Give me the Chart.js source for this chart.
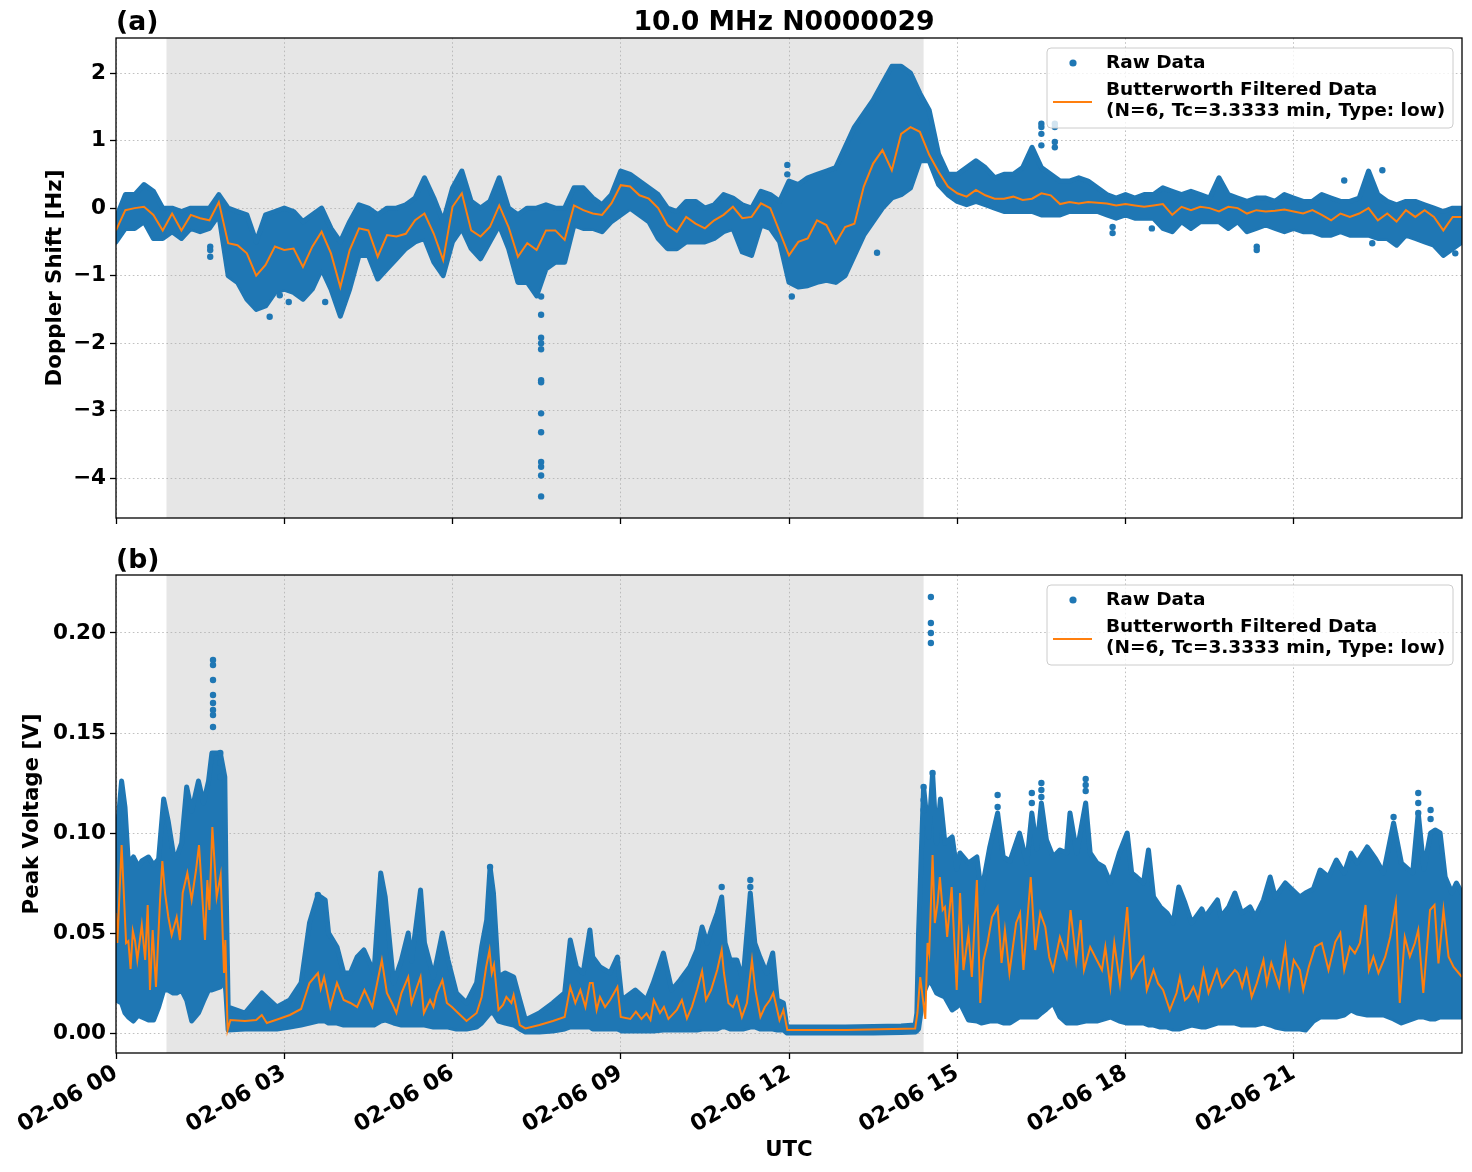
<!DOCTYPE html>
<html><head><meta charset="utf-8">
<script src="https://cdn.jsdelivr.net/npm/chart.js@4.4.1/dist/chart.umd.min.js"></script>
<style>
html,body{margin:0;padding:0;background:#fff;}
#wrap{position:relative;width:1472px;height:1172px;}
#ca{position:absolute;left:0;top:0;}
#cb{position:absolute;left:0;top:545px;}
</style></head><body>
<div id="wrap">
<canvas id="ca" width="1472" height="545"></canvas>
<canvas id="cb" width="1472" height="627"></canvas>
</div>
<script>
// ---------------- DATA ----------------
const mainTitle = '10.0 MHz N0000029';
const labelRaw = 'Raw Data';
const labelFilt = ['Butterworth Filtered Data', '(N=6, Tc=3.3333 min, Type: low)'];
const xTicks = [0, 3, 6, 9, 12, 15, 18, 21];
const xTickLabels = ['02-06 00','02-06 03','02-06 06','02-06 09','02-06 12','02-06 15','02-06 18','02-06 21'];
const yTicksA = [-4, -3, -2, -1, 0, 1, 2];
const yTickLabelsA = ['\u22124','\u22123','\u22122','\u22121','0','1','2'];
const yTicksB = [0, 0.05, 0.10, 0.15, 0.20];
const yTickLabelsB = ['0.00','0.05','0.10','0.15','0.20'];
const nightStart = 0.9, nightEnd = 14.4;   // shaded interval (hours UTC)

// Panel (a): sampled every 10 minutes, 00:00 .. 24:00 (145 samples)
const hoursA = Array.from({length: 145}, (_, i) => i / 6);
const filtA = [
 -0.33,-0.03,0.00,0.02,-0.10,-0.33,-0.08,-0.33,-0.10,-0.15,-0.18,0.09,
 -0.52,-0.55,-0.67,-1.00,-0.84,-0.57,-0.62,-0.60,-0.87,-0.57,-0.35,-0.67,
 -1.17,-0.62,-0.30,-0.33,-0.72,-0.40,-0.42,-0.38,-0.18,-0.08,-0.38,-0.77,
 0.02,0.22,-0.33,-0.42,-0.28,0.04,-0.28,-0.72,-0.52,-0.62,-0.33,-0.33,
 -0.47,0.04,-0.03,-0.08,-0.10,0.07,0.34,0.32,0.19,0.14,0.00,-0.25,
 -0.35,-0.13,-0.23,-0.30,-0.18,-0.10,0.02,-0.15,-0.13,0.07,0.00,-0.35,
 -0.70,-0.50,-0.45,-0.18,-0.25,-0.52,-0.28,-0.23,0.32,0.66,0.86,0.56,
 1.10,1.20,1.13,0.79,0.54,0.32,0.22,0.17,0.27,0.19,0.14,0.14,
 0.17,0.12,0.14,0.22,0.19,0.06,0.09,0.07,0.09,0.08,0.07,0.04,
 0.06,0.04,0.02,0.04,0.06,-0.10,0.02,-0.03,0.02,0.00,-0.05,0.02,
 0.00,-0.08,-0.03,-0.05,-0.04,-0.02,-0.05,-0.08,-0.03,-0.10,-0.18,-0.08,
 -0.13,-0.08,0.00,-0.18,-0.08,-0.20,-0.03,-0.13,-0.03,-0.13,-0.33,-0.13,
 -0.13];
const rawUpperA = [
 -0.15,0.20,0.20,0.35,0.25,0.00,0.00,-0.05,0.00,0.00,0.00,0.20,
 0.00,-0.05,-0.10,-0.50,-0.10,-0.05,0.00,-0.05,-0.20,-0.10,0.00,-0.30,
 -0.50,-0.20,0.05,0.00,-0.10,0.00,0.00,0.05,0.15,0.45,0.15,-0.20,
 0.30,0.55,0.10,0.00,0.10,0.45,0.00,-0.10,0.00,0.00,0.05,0.00,
 0.00,0.30,0.30,0.15,0.05,0.20,0.55,0.50,0.40,0.30,0.20,0.00,
 -0.05,0.10,0.10,0.00,0.05,0.20,0.15,0.05,0.00,0.25,0.20,0.10,
 0.40,0.35,0.45,0.50,0.55,0.60,0.90,1.20,1.40,1.60,1.85,2.10,
 2.10,2.00,1.70,1.45,0.80,0.50,0.50,0.60,0.70,0.60,0.45,0.50,
 0.50,0.60,0.90,0.60,0.50,0.40,0.40,0.45,0.40,0.30,0.20,0.15,
 0.20,0.15,0.20,0.20,0.30,0.25,0.20,0.25,0.20,0.15,0.45,0.20,
 0.15,0.10,0.15,0.15,0.10,0.20,0.15,0.10,0.10,0.20,0.15,0.10,
 0.10,0.15,0.55,0.20,0.10,0.05,0.10,0.10,0.05,0.00,-0.05,0.00,
 0.00];
const rawLowerA = [
 -0.50,-0.30,-0.30,-0.20,-0.45,-0.45,-0.35,-0.45,-0.30,-0.35,-0.30,-0.10,
 -1.00,-1.10,-1.35,-1.50,-1.45,-1.25,-1.20,-1.25,-1.35,-1.20,-0.90,-1.20,
 -1.60,-1.20,-0.70,-0.70,-1.05,-0.90,-0.75,-0.60,-0.50,-0.45,-0.80,-1.00,
 -0.50,-0.30,-0.60,-0.75,-0.50,-0.25,-0.60,-1.10,-1.10,-1.30,-0.90,-0.80,
 -0.80,-0.25,-0.30,-0.30,-0.35,-0.20,-0.10,0.00,-0.10,-0.20,-0.45,-0.60,
 -0.60,-0.50,-0.50,-0.50,-0.45,-0.35,-0.30,-0.65,-0.70,-0.25,-0.30,-0.50,
 -1.10,-1.17,-1.15,-1.10,-1.07,-1.10,-1.00,-0.70,-0.40,-0.20,0.00,0.15,
 0.20,0.30,0.70,0.70,0.35,0.20,0.10,0.05,0.10,0.05,0.00,-0.05,
 -0.05,-0.05,-0.05,-0.10,-0.10,-0.10,-0.05,-0.05,-0.05,-0.05,-0.10,-0.15,
 -0.10,-0.15,-0.15,-0.15,-0.30,-0.35,-0.20,-0.30,-0.20,-0.20,-0.20,-0.30,
 -0.20,-0.35,-0.30,-0.25,-0.30,-0.35,-0.30,-0.35,-0.35,-0.40,-0.40,-0.35,
 -0.40,-0.40,-0.40,-0.45,-0.45,-0.55,-0.40,-0.45,-0.50,-0.55,-0.70,-0.60,
 -0.50];
// isolated raw points outside the dense band (a)
const outHoursA = [7.58,7.58,7.58,7.58,7.58,7.58,7.58,7.58,7.58,7.58,7.58,7.58,7.58,
 1.68,1.68,1.68,2.74,2.92,3.08,3.73,11.97,11.97,12.05,13.57,
 16.5,16.5,16.5,16.5,16.74,16.74,16.74,16.74,17.77,17.77,18.47,20.34,20.34,21.9,22.4,22.58,23.88];
const outValsA = [-1.31,-1.58,-1.92,-2.0,-2.09,-2.55,-2.58,-3.04,-3.32,-3.76,-3.83,-3.96,-4.27,
 -0.57,-0.62,-0.72,-1.61,-1.29,-1.39,-1.39,0.64,0.5,-1.31,-0.66,
 1.25,1.2,1.1,0.93,1.25,1.2,0.98,0.9,-0.28,-0.37,-0.3,-0.57,-0.62,0.41,-0.52,0.56,-0.67];

// Panel (b): envelope of the raw cloud
const envHoursB = [0,0.1,0.16,0.22,0.31,0.4,0.46,0.58,0.67,0.76,0.85,0.93,1.02,1.08,1.17,1.26,1.35,1.47,1.56,1.65,1.71,1.86,1.94,1.96,
 2.0,2.3,2.6,2.87,3.1,3.3,3.45,3.6,3.73,3.79,3.94,4.06,4.18,4.3,4.42,4.6,4.72,4.8,4.95,5.09,5.21,5.27,5.43,5.5,5.66,5.82,5.92,
 6.07,6.25,6.43,6.52,6.61,6.67,6.73,6.82,6.94,7.09,7.2,7.3,7.55,7.79,8.0,8.1,8.21,8.33,8.45,8.5,8.63,8.81,8.94,
 9.02,9.26,9.46,9.58,9.76,9.91,10.06,10.23,10.36,10.45,10.54,10.63,10.72,10.8,10.86,10.95,11.07,11.18,11.31,11.39,11.48,11.6,11.71,11.79,11.9,11.96,
 12.5,13.0,13.5,14.0,14.25,14.28,14.31,14.4,14.49,14.56,14.63,14.7,14.78,14.91,14.99,15.05,15.2,15.35,15.43,15.58,15.72,15.82,15.94,
 16.11,16.24,16.33,16.42,16.5,16.59,16.71,16.83,16.95,17.01,17.13,17.29,17.37,17.49,17.61,17.73,17.89,18.03,18.11,18.2,18.32,18.41,18.5,18.62,18.74,18.85,18.95,
 19.06,19.18,19.36,19.42,19.64,19.7,19.84,19.95,20.07,20.22,20.31,20.46,20.58,20.67,20.85,20.96,21.11,21.21,21.35,21.47,21.62,21.76,21.9,
 22.02,22.13,22.31,22.46,22.6,22.78,22.92,23.12,23.22,23.32,23.44,23.52,23.61,23.7,23.82,23.9,24.0];
const rawUpperB = [0.093,0.126,0.113,0.085,0.088,0.083,0.086,0.088,0.084,0.087,0.117,0.106,0.09,0.088,0.095,0.123,0.111,0.126,0.115,0.126,0.14,0.14,0.128,0.08,
 0.013,0.01,0.02,0.013,0.0165,0.025,0.055,0.069,0.0665,0.05,0.043,0.03,0.03,0.038,0.0415,0.03,0.08,0.068,0.025,0.0365,0.05,0.036,0.0715,0.045,0.028,0.05,0.0365,
 0.02,0.015,0.025,0.043,0.0565,0.083,0.07,0.028,0.03,0.028,0.0165,0.0065,0.01,0.015,0.02,0.0465,0.033,0.03,0.0515,0.038,0.033,0.03,0.038,
 0.0165,0.0215,0.0165,0.025,0.04,0.0215,0.0265,0.033,0.0415,0.053,0.045,0.053,0.06,0.068,0.045,0.0365,0.0365,0.0265,0.07,0.045,0.038,0.03,0.04,0.0165,0.015,0.003,
 0.003,0.003,0.0032,0.0035,0.004,0.01,0.05,0.123,0.098,0.13,0.095,0.117,0.095,0.098,0.082,0.09,0.085,0.088,0.07,0.093,0.11,0.088,0.086,
 0.1,0.085,0.11,0.092,0.115,0.0965,0.088,0.0915,0.09,0.11,0.09,0.115,0.09,0.085,0.083,0.075,0.09,0.1,0.08,0.078,0.075,0.0915,0.068,0.063,0.06,0.055,0.073,
 0.065,0.055,0.062,0.058,0.0665,0.058,0.063,0.07,0.06,0.063,0.058,0.0665,0.078,0.068,0.075,0.072,0.068,0.07,0.072,0.0815,0.078,0.0865,0.08,
 0.09,0.085,0.093,0.087,0.08,0.105,0.085,0.08,0.11,0.082,0.1,0.1015,0.1,0.078,0.07,0.075,0.07];
const rawLowerB = [0.0165,0.015,0.01,0.008,0.006,0.009,0.008,0.0065,0.0065,0.013,0.0215,0.0215,0.02,0.02,0.0215,0.0165,0.006,0.01,0.016,0.0215,0.0215,0.023,0.0265,0.02,
 0.0015,0.002,0.002,0.002,0.003,0.004,0.005,0.006,0.006,0.005,0.005,0.004,0.004,0.004,0.004,0.004,0.006,0.0065,0.005,0.004,0.004,0.004,0.004,0.004,0.003,0.003,0.003,
 0.002,0.002,0.003,0.005,0.008,0.01,0.01,0.006,0.005,0.004,0.002,0.0005,0.0005,0.001,0.002,0.003,0.003,0.003,0.003,0.002,0.002,0.002,0.002,
 0.001,0.001,0.001,0.001,0.0015,0.0015,0.0015,0.0015,0.0015,0.002,0.002,0.002,0.002,0.003,0.003,0.002,0.002,0.002,0.003,0.003,0.002,0.002,0.002,0.0015,0.0015,0.0,
 0.0,0.0,0.0,0.0002,0.0005,0.001,0.002,0.02,0.0265,0.024,0.02,0.019,0.018,0.0115,0.013,0.015,0.0065,0.006,0.005,0.006,0.006,0.005,0.005,
 0.008,0.008,0.008,0.008,0.01,0.012,0.015,0.008,0.005,0.005,0.005,0.006,0.006,0.006,0.007,0.008,0.006,0.005,0.005,0.005,0.005,0.004,0.004,0.003,0.003,0.002,0.002,
 0.003,0.004,0.003,0.003,0.005,0.005,0.005,0.005,0.004,0.004,0.004,0.005,0.004,0.003,0.002,0.002,0.002,0.0015,0.006,0.008,0.008,0.008,0.009,
 0.0115,0.01,0.009,0.009,0.009,0.007,0.005,0.007,0.008,0.008,0.007,0.007,0.008,0.008,0.008,0.008,0.008];
// Panel (b): filtered curve, read at its turning points
const filtHoursB = [0,0.024,0.1,0.18,0.22,0.26,0.3,0.34,0.38,0.46,0.52,0.565,0.606,0.654,0.713,0.785,0.826,0.874,0.933,0.993,1.082,1.141,1.189,1.272,1.349,1.427,1.48,1.587,1.629,1.665,1.718,1.795,1.866,1.926,1.95,1.99,
 2.04,2.3,2.5,2.6,2.69,2.9,3.1,3.3,3.45,3.6,3.65,3.71,3.82,3.94,4.06,4.18,4.3,4.43,4.57,4.74,4.83,4.92,5.0,5.09,5.21,5.27,5.33,5.43,5.49,5.6,5.66,5.72,5.82,5.9,5.99,
 6.1,6.25,6.43,6.52,6.6,6.66,6.7,6.74,6.82,6.9,6.96,7.05,7.09,7.2,7.3,7.55,7.79,8.0,8.1,8.19,8.28,8.37,8.45,8.5,8.57,8.63,8.72,8.81,8.94,
 9.0,9.17,9.27,9.37,9.46,9.53,9.59,9.7,9.77,9.85,10.0,10.09,10.18,10.27,10.36,10.45,10.52,10.61,10.72,10.8,10.84,10.92,11.0,11.07,11.16,11.25,11.34,11.4,11.49,11.57,11.66,11.72,11.83,11.9,11.97,
 13.03,14.25,14.29,14.34,14.43,14.47,14.5,14.56,14.6,14.65,14.69,14.74,14.78,14.82,14.9,14.99,15.05,15.11,15.2,15.26,15.35,15.41,15.47,15.54,15.62,15.72,15.79,15.85,15.93,
 16.05,16.12,16.18,16.31,16.39,16.48,16.57,16.64,16.71,16.83,16.95,17.02,17.12,17.2,17.26,17.37,17.46,17.58,17.64,17.73,17.8,17.9,18.03,18.11,18.2,18.32,18.38,18.5,18.58,18.67,18.79,18.91,18.97,
 19.06,19.12,19.21,19.3,19.39,19.48,19.63,19.72,19.81,19.95,20.01,20.08,20.16,20.25,20.34,20.46,20.52,20.6,20.68,20.74,20.85,20.92,21.0,21.11,21.17,21.27,21.38,21.5,21.62,21.74,21.83,21.9,
 22.0,22.09,22.18,22.28,22.34,22.42,22.51,22.63,22.72,22.82,22.89,22.98,23.07,23.16,23.22,23.31,23.43,23.51,23.58,23.67,23.76,23.85,23.94,24.0];
const filtB = [0.06,0.045,0.094,0.045,0.046,0.032,0.051,0.046,0.0365,0.054,0.0365,0.064,0.0215,0.0515,0.023,0.0665,0.086,0.07,0.058,0.049,0.058,0.0465,0.07,0.08,0.0665,0.0815,0.094,0.0465,0.0765,0.0615,0.103,0.068,0.079,0.03,0.0465,0.0015,
 0.0065,0.006,0.0065,0.009,0.005,0.007,0.009,0.012,0.025,0.03,0.022,0.028,0.013,0.025,0.0165,0.015,0.013,0.0215,0.013,0.0365,0.02,0.015,0.01,0.02,0.028,0.015,0.02,0.028,0.01,0.0165,0.013,0.02,0.0265,0.015,0.013,
 0.01,0.006,0.01,0.018,0.033,0.0415,0.03,0.034,0.0115,0.014,0.018,0.015,0.019,0.004,0.0023,0.004,0.006,0.008,0.023,0.015,0.0215,0.013,0.025,0.025,0.0115,0.018,0.013,0.0165,0.023,
 0.008,0.007,0.0107,0.007,0.0098,0.0065,0.0165,0.01,0.013,0.007,0.0115,0.0165,0.0073,0.0132,0.0215,0.031,0.0165,0.0215,0.0315,0.0415,0.03,0.015,0.013,0.018,0.008,0.015,0.0365,0.0215,0.008,0.013,0.0165,0.02,0.0065,0.0115,0.0015,
 0.0015,0.0023,0.01,0.028,0.007,0.045,0.04,0.089,0.055,0.065,0.078,0.0615,0.063,0.048,0.073,0.0215,0.07,0.0315,0.05,0.028,0.0765,0.015,0.0365,0.045,0.058,0.063,0.035,0.0515,0.03,
 0.055,0.06,0.0315,0.078,0.0415,0.06,0.053,0.038,0.0315,0.048,0.038,0.0615,0.0365,0.0565,0.0315,0.043,0.038,0.0315,0.043,0.023,0.045,0.0248,0.063,0.028,0.033,0.038,0.0215,0.0315,0.0248,0.0215,0.0115,0.02,0.028,
 0.0165,0.018,0.023,0.0165,0.0315,0.02,0.0315,0.023,0.0265,0.0315,0.0298,0.023,0.0315,0.018,0.0248,0.0365,0.0248,0.035,0.0282,0.0232,0.043,0.0232,0.0365,0.0315,0.0215,0.0332,0.043,0.045,0.0315,0.0455,0.05,0.0315,
 0.043,0.0398,0.045,0.064,0.0315,0.0382,0.03,0.038,0.048,0.065,0.015,0.048,0.0382,0.045,0.0515,0.02,0.0615,0.064,0.0348,0.0615,0.0382,0.033,0.03,0.028];
// isolated raw points above the dense band (b)
const outHoursB = [1.73,1.73,1.73,1.73,1.73,1.73,1.73,1.73,1.86,1.86,1.86,
 3.6,6.67,10.8,11.31,11.31,14.4,14.4,14.4,14.53,14.53,14.53,14.53,14.56,
 15.72,15.72,16.33,16.33,16.5,16.5,16.5,17.29,17.29,17.29,22.78,23.22,23.22,23.22,23.44,23.44];
const outValsB = [0.1865,0.184,0.1765,0.169,0.165,0.1615,0.159,0.153,0.14,0.135,0.128,
 0.069,0.083,0.073,0.0765,0.073,0.123,0.1165,0.1115,0.218,0.205,0.2,0.195,0.13,
 0.119,0.113,0.12,0.115,0.125,0.1215,0.118,0.127,0.124,0.121,0.108,0.12,0.115,0.11,0.1115,0.107];

// ---------------- STYLE / HELPERS ----------------
const BLUE = '#1f77b4', ORANGE = '#ff7f0e', SHADE = '#e6e6e6';
const FONT = "'DejaVu Sans', sans-serif";
const toXY = (xs, ys) => xs.map((x, i) => ({x: x, y: ys[i]}));

const gridOpts = {color: '#b0b0b0', lineWidth: 0.8, drawTicks: true, tickLength: 6,
  tickColor: '#000', tickWidth: 1.3, tickBorderDash: []};
const borderOpts = {display: false, dash: [1.6, 2.6]};

function xScale(showLabels, axisHeight) {
  return {
    type: 'linear', min: 0, max: 24,
    afterBuildTicks: s => { s.ticks = xTicks.map(v => ({value: v})); },
    afterFit: s => { s.height = axisHeight; },
    grid: gridOpts, border: borderOpts,
    ticks: {display: showLabels, autoSkip: false, maxRotation: 30, minRotation: 30, padding: 1,
      color: '#000', font: {family: FONT, size: 22.5, weight: 'bold'},
      callback: (v, i) => xTickLabels[i]},
    title: showLabels ? {display: true, text: 'UTC', color: '#000',
      font: {family: FONT, size: 21.3, weight: 'bold'}, padding: {top: 0, bottom: 9}} : {display: false}
  };
}
function yScale(min, max, ticks, labels, title, titlePad) {
  return {
    type: 'linear', min: min, max: max,
    afterBuildTicks: s => { s.ticks = ticks.map(v => ({value: v})); },
    afterFit: s => { s.width = 116; },
    grid: gridOpts, border: borderOpts,
    ticks: {padding: 4, color: '#000', font: {family: FONT, size: 21.5, weight: 'bold'},
      callback: (v, i) => labels[i]},
    title: {display: true, text: title, color: '#000',
      font: {family: FONT, size: 21.3, weight: 'bold'}, padding: {top: titlePad, bottom: 0}}
  };
}

const panelPlugin = {
  id: 'panel',
  beforeDraw(chart, args, o) {
    const {ctx, chartArea: ca, scales: {x}} = chart;
    const x0 = x.getPixelForValue(o.shadeFrom), x1 = x.getPixelForValue(o.shadeTo);
    ctx.save();
    ctx.fillStyle = SHADE;
    ctx.fillRect(x0, ca.top, x1 - x0, ca.bottom - ca.top);
    ctx.restore();
  },
  afterDraw(chart, args, o) {
    const {ctx, chartArea: ca} = chart;
    ctx.save();
    ctx.setLineDash([]);
    ctx.strokeStyle = '#000'; ctx.lineWidth = 1.3;
    ctx.strokeRect(ca.left, ca.top, ca.right - ca.left, ca.bottom - ca.top);
    // panel tag and title
    ctx.fillStyle = '#000';
    ctx.font = 'bold 26.7px ' + FONT;
    ctx.textBaseline = 'alphabetic';
    ctx.textAlign = 'left';
    ctx.fillText(o.tag, ca.left, o.textBase);
    if (o.title) { ctx.textAlign = 'center'; ctx.fillText(o.title, (ca.left + ca.right) / 2 - 5, o.textBase); }
    // legend (matplotlib style)
    const ds = chart.data.datasets;
    const rawLbl = ds.find(d => d.id === 'raw').label;
    const filtLbl = ds.find(d => d.id === 'filt').label;
    const lx = ca.right - 415, ly = ca.top + 10, lw = 406, lh = 80;
    ctx.beginPath(); ctx.roundRect(lx, ly, lw, lh, 4);
    ctx.fillStyle = 'rgba(255,255,255,0.8)'; ctx.fill();
    ctx.strokeStyle = '#cccccc'; ctx.lineWidth = 1; ctx.stroke();
    ctx.beginPath(); ctx.arc(lx + 26, ly + 15, 3.6, 0, Math.PI * 2); ctx.fillStyle = BLUE; ctx.fill();
    ctx.beginPath(); ctx.moveTo(lx + 6, ly + 54); ctx.lineTo(lx + 45, ly + 54);
    ctx.strokeStyle = ORANGE; ctx.lineWidth = 2; ctx.stroke();
    ctx.fillStyle = '#000'; ctx.font = 'bold 18.5px ' + FONT;
    ctx.textAlign = 'left'; ctx.textBaseline = 'middle';
    ctx.fillText(rawLbl, lx + 59, ly + 15);
    ctx.fillText(filtLbl[0], lx + 59, ly + 42);
    ctx.fillText(filtLbl[1], lx + 59, ly + 63);
    ctx.restore();
  }
};

function datasets(envX, up, lo, fX, fY, oX, oY) {
  return [
    {id: 'filt', type: 'line', label: labelFilt, data: toXY(fX, fY), borderColor: ORANGE,
      borderWidth: 2, pointRadius: 0, fill: false, tension: 0, order: 0},
    {id: 'raw', type: 'scatter', label: labelRaw, data: toXY(oX, oY), backgroundColor: BLUE,
      pointBackgroundColor: BLUE, pointBorderWidth: 0, pointRadius: 3.2, showLine: false, order: 1},
    {id: 'rawUp', type: 'line', label: 'raw upper', data: toXY(envX, up), borderColor: BLUE,
      backgroundColor: BLUE, borderWidth: 5, borderJoinStyle: 'round', borderCapStyle: 'round',
      pointRadius: 0, fill: '+1', tension: 0, order: 2},
    {id: 'rawLo', type: 'line', label: 'raw lower', data: toXY(envX, lo), borderColor: BLUE,
      backgroundColor: BLUE, borderWidth: 5, borderJoinStyle: 'round', borderCapStyle: 'round',
      pointRadius: 0, fill: false, tension: 0, order: 3}
  ];
}

const common = {responsive: false, animation: false, events: [], normalized: true};

new Chart(document.getElementById('ca'), {
  type: 'line',
  data: {datasets: datasets(hoursA, rawUpperA, rawLowerA, hoursA, filtA, outHoursA, outValsA)},
  options: Object.assign({}, common, {
    layout: {padding: {top: 38, right: 10, left: 0, bottom: 0}},
    scales: {
      x: xScale(false, 27),
      y: yScale(-4.59, 2.52, yTicksA, yTickLabelsA, 'Doppler Shift [Hz]', 43)
    },
    plugins: {legend: {display: false}, tooltip: {enabled: false},
      panel: {tag: '(a)', title: mainTitle, textBase: 30, shadeFrom: nightStart, shadeTo: nightEnd}}
  }),
  plugins: [panelPlugin]
});

new Chart(document.getElementById('cb'), {
  type: 'line',
  data: {datasets: datasets(envHoursB, rawUpperB, rawLowerB, filtHoursB, filtB, outHoursB, outValsB)},
  options: Object.assign({}, common, {
    layout: {padding: {top: 30, right: 10, left: 0, bottom: 0}},
    scales: {
      x: xScale(true, 119),
      y: yScale(-0.01, 0.229, yTicksB, yTickLabelsB, 'Peak Voltage [V]', 20)
    },
    plugins: {legend: {display: false}, tooltip: {enabled: false},
      panel: {tag: '(b)', title: '', textBase: 23, shadeFrom: nightStart, shadeTo: nightEnd}}
  }),
  plugins: [panelPlugin]
});
</script>
</body></html>
